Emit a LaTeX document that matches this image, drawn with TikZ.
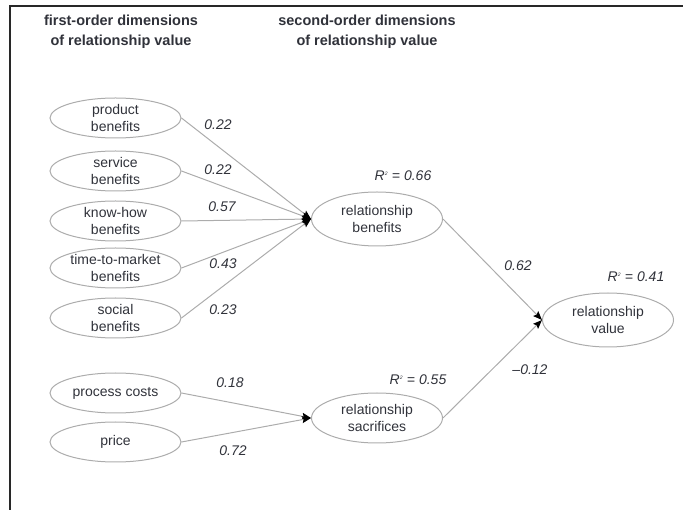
\documentclass[tikz,border=0pt]{standalone}
\usepackage{fontspec}
\setmainfont{Liberation Sans}
\usetikzlibrary{shapes.geometric,arrows.meta}
\definecolor{inkgray}{RGB}{48,50,58}
\definecolor{rimgray}{RGB}{172,172,172}
\definecolor{linkgray}{RGB}{172,172,172}
\definecolor{framegray}{RGB}{40,40,40}
\begin{document}
\begin{tikzpicture}[x=1pt,y=-1pt,
  construct/.style={ellipse, draw=rimgray, line width=1pt, minimum width=131pt,
    minimum height=40pt, inner sep=0pt, align=center, text=inkgray,
    font=\fontsize{14}{16.5}\selectfont},
  bigconstruct/.style={construct, minimum height=54pt},
  link/.style={draw=linkgray, line width=1pt,
    -{Stealth[length=9pt,width=7pt,inset=1.5pt,black]}},
  coef/.style={text=inkgray, font=\fontsize{14}{16}\selectfont\itshape},
  heading/.style={align=center, text=inkgray, font=\bfseries\fontsize{14.5}{20}\selectfont}]

\useasboundingbox (0,0) rectangle (683,510);

% frame lines
\draw[framegray, line width=1.6pt] (10,510) -- (10,6) -- (683,6);

% column headings
\node[heading] (h1) at (121,32) {first-order dimensions\\of relationship value};
\node[heading] (h2) at (367,32) {second-order dimensions\\of relationship value};

% first-order constructs
\node[construct] (prod) at (115.5,118) {product\\benefits};
\node[construct] (serv) at (115.5,171) {service\\benefits};
\node[construct] (know) at (115.5,221) {know-how\\benefits};
\node[construct] (ttm)  at (115.5,268) {time-to-market\\benefits};
\node[construct] (soc)  at (115.5,318) {social\\benefits};
\node[construct] (proc) at (115.5,393) {process costs};
\node[construct] (price) at (115.5,442) {price};

% second-order constructs
\node[bigconstruct] (relben) at (377,219) {relationship\\benefits};
\node[bigconstruct, minimum height=50pt] (relsac) at (377,418) {relationship\\sacrifices};
\node[bigconstruct] (relval) at (608,320) {relationship\\value};

% paths
\draw[link] (prod.east) -- (relben.west);
\draw[link] (serv.east) -- (relben.west);
\draw[link] (know.east) -- (relben.west);
\draw[link] (ttm.east) -- (relben.west);
\draw[link] (soc.east) -- (relben.west);
\draw[link] (proc.east) -- (relsac.west);
\draw[link] (price.east) -- (relsac.west);
\draw[link] (relben.east) -- (relval.west);
\draw[link] (relsac.east) -- (relval.west);

% path coefficients
\node[coef] (c1) at (218,125) {0.22};
\node[coef] (c2) at (218,170) {0.22};
\node[coef] (c3) at (222,207) {0.57};
\node[coef] (c4) at (223,264) {0.43};
\node[coef] (c5) at (223,310) {0.23};
\node[coef] (c6) at (230,383) {0.18};
\node[coef] (c7) at (233,451) {0.72};
\node[coef] (c8) at (518,266) {0.62};
\node[coef] (c9) at (530,370) {–0.12};

% explained variance
\node[coef] (r1) at (403,176) {R\textsuperscript{\fontsize{5}{5}\selectfont 2} = 0.66};
\node[coef] (r2) at (418,380) {R\textsuperscript{\fontsize{5}{5}\selectfont 2} = 0.55};
\node[coef] (r3) at (636,277) {R\textsuperscript{\fontsize{5}{5}\selectfont 2} = 0.41};
\end{tikzpicture}
\end{document}
